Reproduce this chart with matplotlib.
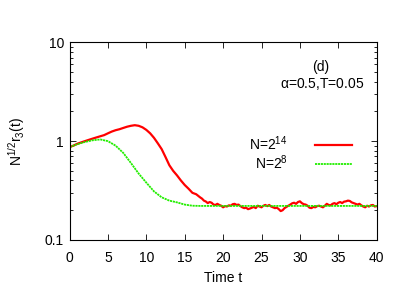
import numpy as np
import matplotlib
matplotlib.use("Agg")
import matplotlib.pyplot as plt
from matplotlib.ticker import FixedLocator, LogLocator, NullFormatter

plt.rcParams['font.family'] = ['Liberation Sans', 'DejaVu Sans']
plt.rcParams['mathtext.fontset'] = 'custom'
plt.rcParams['mathtext.rm'] = 'Liberation Sans'
plt.rcParams['mathtext.it'] = 'Liberation Sans'

# N = 2^14: every 0.5 up to t=16.5, then every 0.25
t_big_head = np.arange(0, 16.51, 0.5)
r_big_head = [0.87, 0.90, 0.94, 0.97, 1.00, 1.03, 1.06, 1.09, 1.12, 1.15,
              1.20, 1.25, 1.29, 1.32, 1.36, 1.40, 1.43, 1.45, 1.43, 1.38,
              1.30, 1.20, 1.08, 0.95, 0.83, 0.69, 0.57, 0.50, 0.45, 0.40,
              0.36, 0.33, 0.30, 0.29]
t_big_tail = np.arange(17, 40.01, 0.25)
r_big_tail = [0.27, 0.262, 0.25, 0.245, 0.236, 0.242, 0.238, 0.228,
              0.226, 0.232, 0.226, 0.222, 0.214, 0.22, 0.218, 0.224,
              0.222, 0.23, 0.232, 0.226, 0.228, 0.22, 0.214, 0.21,
              0.212, 0.205, 0.208, 0.212, 0.216, 0.21, 0.222, 0.218,
              0.214, 0.222, 0.226, 0.22, 0.226, 0.218, 0.214, 0.21,
              0.212, 0.205, 0.196, 0.2, 0.21, 0.216, 0.222, 0.228,
              0.235, 0.238, 0.232, 0.242, 0.246, 0.236, 0.23, 0.228,
              0.222, 0.212, 0.21, 0.216, 0.214, 0.22, 0.222, 0.218,
              0.214, 0.222, 0.232, 0.226, 0.224, 0.232, 0.236, 0.23,
              0.238, 0.242, 0.236, 0.244, 0.246, 0.25, 0.248, 0.24,
              0.236, 0.232, 0.228, 0.232, 0.224, 0.218, 0.214, 0.222,
              0.218, 0.224, 0.226, 0.218, 0.22]

# N = 2^8, sampled every 1
t_small = np.arange(0, 41, 1)
r_small = [0.87, 0.93, 0.98, 1.02, 1.04, 1.00, 0.90, 0.76, 0.60, 0.47,
           0.38, 0.31, 0.27, 0.25, 0.24, 0.228, 0.222, 0.221, 0.221, 0.221,
           0.221, 0.221, 0.221, 0.221, 0.221, 0.221, 0.221, 0.221, 0.221, 0.221,
           0.221, 0.221, 0.221, 0.221, 0.221, 0.221, 0.221, 0.221, 0.221, 0.221,
           0.221]

t_big = np.concatenate([t_big_head, t_big_tail])
r_big = np.concatenate([r_big_head, r_big_tail])

fs = 10

fig = plt.figure(figsize=(4.09, 2.86), dpi=100)
ax = fig.add_axes([0.170, 0.161, 0.751, 0.691])

ax.plot(t_big, r_big, color='#ff0000', lw=1.6, label=r'N=2$^{14}$')
ax.plot(t_small, r_small, color='#22ee00', lw=1.3, ls=(0, (1.2, 0.4)),
        label=r'N=2$^{8}$')

ax.set_yscale('log')
ax.set_xlim(0, 40)
ax.set_ylim(0.1, 10)
ax.xaxis.set_major_locator(FixedLocator(np.arange(0, 41, 5)))
ax.yaxis.set_major_locator(FixedLocator([0.1, 1, 10]))
ax.set_yticklabels(['0.1', '1', '10'])
ax.yaxis.set_minor_locator(LogLocator(base=10, subs=np.arange(2, 10)))
ax.yaxis.set_minor_formatter(NullFormatter())
ax.tick_params(which='both', direction='in', top=True, right=True,
               labelsize=fs, width=0.6)
ax.tick_params(which='major', length=4)
ax.tick_params(which='minor', length=2)
ax.tick_params(axis='x', pad=8)
ax.tick_params(axis='y', pad=4)
for s in ax.spines.values():
    s.set_linewidth(0.8)

ax.set_xlabel('Time t', fontsize=fs, labelpad=4)
ax.set_ylabel(r'N$^{1/2}$r$_3$(t)', fontsize=fs, labelpad=13)

ax.text(0.817, 0.875, '(d)', transform=ax.transAxes, ha='center',
        va='center', fontsize=fs)
ax.text(0.822, 0.79, r'$\alpha$=0.5,T=0.05', transform=ax.transAxes,
        ha='center', va='center', fontsize=fs)

ax.legend(loc='upper right', bbox_to_anchor=(0.92, 0.535), frameon=False,
          markerfirst=False, fontsize=fs, handlelength=2.65,
          labelspacing=0.05, handletextpad=2.0, borderpad=0,
          borderaxespad=0)

fig.savefig('out.png', dpi=100)
